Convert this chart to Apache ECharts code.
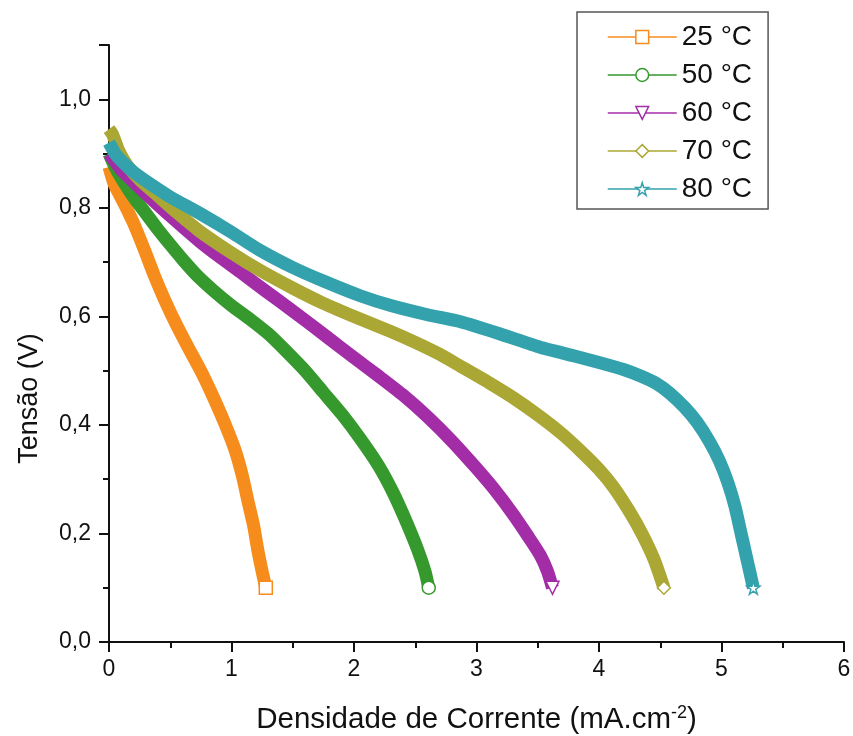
<!DOCTYPE html>
<html lang="pt">
<head>
<meta charset="UTF-8">
<title>Curvas de polarização</title>
<style>
  html, body { margin: 0; padding: 0; background: #fff; }
  #chart { width: 853px; height: 736px; }
</style>
<script src="https://cdn.jsdelivr.net/npm/echarts@6/dist/echarts.min.js"></script>
</head>
<body>
<div id="chart"></div>
<script>
  // séries (densidade de corrente em mA.cm-2, tensão em V)
  const names = ['25 °C', '50 °C', '60 °C', '70 °C', '80 °C'];

  const x25 = [0, 0.04, 0.1, 0.13, 0.2, 0.29, 0.37, 0.455, 0.56, 0.66, 0.76, 0.864, 0.95, 1.03, 1.09, 1.133, 1.18, 1.215, 1.25, 1.28];
  const y25 = [0.875, 0.845, 0.818, 0.805, 0.772, 0.722, 0.675, 0.63, 0.58, 0.537, 0.495, 0.445, 0.40, 0.353, 0.305, 0.261, 0.215, 0.169, 0.13, 0.10];

  const x50 = [0, 0.05, 0.1, 0.2, 0.3, 0.4, 0.5, 0.6, 0.72, 0.85, 1.0, 1.15, 1.3, 1.45, 1.6, 1.75, 1.9, 2.05, 2.2, 2.32, 2.43, 2.52, 2.58, 2.61];
  const y50 = [0.90, 0.875, 0.855, 0.82, 0.79, 0.76, 0.732, 0.705, 0.675, 0.648, 0.62, 0.595, 0.568, 0.535, 0.50, 0.46, 0.42, 0.375, 0.325, 0.275, 0.22, 0.17, 0.13, 0.10];

  const x60 = [0, 0.05, 0.1, 0.2, 0.33, 0.5, 0.74, 0.9, 1.07, 1.27, 1.5, 1.78, 2.0, 2.2, 2.4, 2.6, 2.8, 3.0, 3.15, 3.3, 3.42, 3.52, 3.58, 3.62];
  const y60 = [0.90, 0.885, 0.87, 0.848, 0.82, 0.785, 0.738, 0.71, 0.682, 0.648, 0.61, 0.562, 0.524, 0.49, 0.455, 0.415, 0.37, 0.32, 0.28, 0.235, 0.195, 0.16, 0.13, 0.10];

  const x70 = [0, 0.03, 0.08, 0.15, 0.25, 0.4, 0.55, 0.74, 1.0, 1.23, 1.5, 1.75, 2.05, 2.3, 2.5, 2.7, 2.87, 3.1, 3.3, 3.52, 3.7, 3.85, 4.0, 4.12, 4.25, 4.35, 4.45, 4.53];
  const y70 = [0.945, 0.935, 0.905, 0.878, 0.852, 0.822, 0.792, 0.757, 0.717, 0.685, 0.652, 0.624, 0.595, 0.572, 0.552, 0.53, 0.508, 0.478, 0.45, 0.415, 0.383, 0.352, 0.318, 0.285, 0.24, 0.20, 0.152, 0.10];

  const x80 = [0, 0.05, 0.1, 0.2, 0.33, 0.5, 0.74, 1.0, 1.23, 1.5, 1.75, 2.05, 2.3, 2.6, 2.87, 3.2, 3.52, 3.8, 4.0, 4.2, 4.34, 4.47, 4.58, 4.7, 4.8, 4.9, 4.98, 5.05, 5.11, 5.16, 5.21, 5.26];
  const y80 = [0.92, 0.90, 0.887, 0.866, 0.845, 0.82, 0.79, 0.755, 0.722, 0.69, 0.665, 0.638, 0.62, 0.603, 0.59, 0.567, 0.543, 0.527, 0.515, 0.502, 0.49, 0.476, 0.458, 0.432, 0.405, 0.37, 0.335, 0.295, 0.25, 0.20, 0.15, 0.10];

  const xTicks = [0, 1, 2, 3, 4, 5, 6];
  const yTicks = [0, 0.2, 0.4, 0.6, 0.8, 1.0];

  const xs = [x25, x50, x60, x70, x80];
  const ys = [y25, y50, y60, y70, y80];
  const colors = ['#F58C1C', '#35992E', '#A22DA7', '#ABA735', '#34A2AD'];
  const star = 'path://M50,0 L61,35 L98,35 L68,57 L79,91 L50,70 L21,91 L32,57 L2,35 L39,35 Z';
  const symbols = ['rect', 'circle', 'triangle', 'diamond', star];
  const rotates = [0, 0, 180, 0, 0];
  const font = '"Liberation Sans", Arial, sans-serif';

  const chart = echarts.init(document.getElementById('chart'));

  chart.setOption({
    animation: false,
    grid: { left: 109, right: 9, top: 45, bottom: 94, outerBoundsMode: 'none', containLabel: false },
    legend: {
      orient: 'vertical',
      left: 577,
      top: 12,
      padding: [11, 16, 6, 30],
      itemWidth: 69,
      itemHeight: 16,
      itemGap: 10,
      borderColor: '#555',
      borderWidth: 1.5,
      textStyle: { fontSize: 28, color: '#111', fontFamily: font },
      lineStyle: { width: 1.5 },
      itemStyle: { color: '#fff', borderWidth: 1.5 },
      data: names
    },
    xAxis: {
      type: 'value',
      min: 0,
      max: 6,
      interval: 1,
      name: 'Densidade de Corrente (mA.cm{sup|-2})',
      nameLocation: 'middle',
      nameGap: 62,
      nameTextStyle: {
        fontSize: 29.5, color: '#111', fontFamily: font,
        rich: { sup: { fontSize: 18, verticalAlign: 'top', padding: [0, 0, 14, 0], fontFamily: font, color: '#111' } }
      },
      axisLine: { lineStyle: { color: '#111', width: 2 } },
      axisTick: { length: 10, lineStyle: { width: 2, color: '#111' } },
      minorTick: { show: true, splitNumber: 2, length: 6, lineStyle: { width: 2, color: '#111' } },
      splitLine: { show: false },
      axisLabel: {
        fontSize: 23, color: '#111', fontFamily: font, margin: 16,
        formatter: v => xTicks.includes(v) ? String(v) : ''
      }
    },
    yAxis: {
      type: 'value',
      min: 0,
      max: 1.1,
      interval: 0.2,
      name: 'Tensão (V)',
      nameLocation: 'middle',
      nameGap: 66,
      nameTextStyle: { fontSize: 27, color: '#111', fontFamily: font, padding: [0, 110, 0, 0] },
      axisLine: { show: true, lineStyle: { color: '#111', width: 2 } },
      axisTick: { show: true, length: 10, lineStyle: { width: 2, color: '#111' } },
      minorTick: { show: true, splitNumber: 2, length: 6, lineStyle: { width: 2, color: '#111' } },
      splitLine: { show: false },
      axisLabel: {
        fontSize: 23, color: '#111', fontFamily: font, margin: 18,
        formatter: v => yTicks.some(t => Math.abs(t - v) < 1e-6) ? v.toFixed(1).replace('.', ',') : ''
      }
    },
    series: names.map((n, i) => ({
      name: n,
      type: 'line',
      // marcador visível só no último ponto; a faixa é a linha grossa
      data: xs[i].map((x, k) => k === xs[i].length - 1
        ? { value: [x, ys[i][k]] }
        : { value: [x, ys[i][k]], symbol: 'none' }),
      smooth: 0.2,
      symbol: symbols[i],
      symbolSize: 13,
      symbolRotate: rotates[i],
      lineStyle: { color: colors[i], width: 13, join: 'round', cap: 'butt' },
      itemStyle: { color: '#fff', borderColor: colors[i], borderWidth: 1.5 },
      emphasis: { disabled: true }
    }))
  });
</script>
</body>
</html>
